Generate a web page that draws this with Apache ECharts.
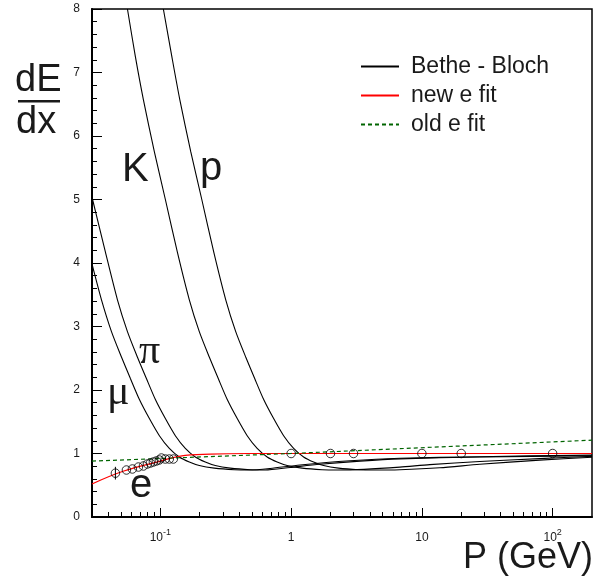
<!DOCTYPE html>
<html>
<head>
<meta charset="utf-8">
<script src="https://cdn.jsdelivr.net/npm/echarts@6/dist/echarts.min.js"></script>
<style>
  html, body { margin: 0; padding: 0; background: #fff; }
  #chart { width: 600px; height: 586px; }
</style>
</head>
<body>
<div id="chart"></div>
<script>
// Bethe-Bloch energy loss curves (momentum in GeV, dE/dx in relative units)
const muP = [0.0303, 0.03545, 0.04227, 0.05039, 0.0590, 0.06915, 0.0824, 0.0983, 0.1171, 0.1396, 0.1665, 0.1985, 0.2584, 0.3671, 0.4779, 0.692, 1.17, 2.82, 6.79, 27.7, 200];
const muV = [3.95, 3.42, 2.92, 2.52, 2.18, 1.85, 1.55, 1.28, 1.08, 0.945, 0.865, 0.81, 0.77, 0.745, 0.74, 0.765, 0.82, 0.885, 0.925, 0.95, 0.975];

const piP = [0.0303, 0.0380, 0.04696, 0.0560, 0.0667, 0.0782, 0.0916, 0.1092, 0.1302, 0.1552, 0.1849, 0.2206, 0.263, 0.3422, 0.4864, 0.6331, 0.982, 1.66, 3.37, 6.79, 27.7, 200];
const piV = [5.0, 4.17, 3.42, 2.92, 2.52, 2.18, 1.85, 1.55, 1.28, 1.08, 0.945, 0.865, 0.81, 0.77, 0.745, 0.74, 0.78, 0.83, 0.88, 0.915, 0.945, 0.965];

const kaonP = [0.0560, 0.0644, 0.0742, 0.0900, 0.1092, 0.1349, 0.1665, 0.1985, 0.2366, 0.2772, 0.3247, 0.3871, 0.4613, 0.5500, 0.6557, 0.7818, 0.9322, 1.213, 1.724, 2.244, 3.61, 6.79, 11.5, 27.7, 79.6, 200];
const kaonV = [8.0, 7.25, 6.57, 5.75, 5.0, 4.17, 3.42, 2.92, 2.52, 2.18, 1.85, 1.55, 1.28, 1.08, 0.945, 0.865, 0.81, 0.77, 0.745, 0.74, 0.75, 0.785, 0.825, 0.875, 0.92, 0.955];

const protonP = [0.1054, 0.1224, 0.1409, 0.1709, 0.2074, 0.2561, 0.3162, 0.3770, 0.4494, 0.5265, 0.6167, 0.7350, 0.8764, 1.045, 1.246, 1.485, 1.771, 2.305, 3.276, 4.265, 6.79, 13.7, 27.7, 79.6, 200];
const protonV = [8.0, 7.25, 6.57, 5.75, 5.0, 4.17, 3.42, 2.92, 2.52, 2.18, 1.85, 1.55, 1.28, 1.08, 0.945, 0.865, 0.81, 0.77, 0.745, 0.74, 0.745, 0.775, 0.83, 0.895, 0.94];

// Electron parametrisations
const newFitP = [0.03, 0.0519, 0.1, 0.142, 0.241, 0.47, 200];
const newFitV = [0.52, 0.72, 0.88, 0.96, 0.99, 1.0, 1.0];

const oldFitP = [0.03, 1, 200];
const oldFitV = [0.88, 1.0, 1.21];

// Measured electron points
const dataP = [0.0453, 0.055, 0.0611, 0.0679, 0.0742, 0.0796, 0.0839, 0.0884, 0.0932, 0.0982, 0.1018, 0.109, 0.117, 0.1256, 1, 2, 3, 10, 20, 100];
const dataV = [0.69, 0.74, 0.756, 0.787, 0.803, 0.835, 0.85, 0.866, 0.882, 0.898, 0.929, 0.913, 0.913, 0.913, 1.0, 1.0, 1.0, 1.0, 1.0, 1.0];
const errP = [0.0453];
const errLo = [0.59];
const errHi = [0.79];

// Axis ticks
const xMajorTicks = [0.1, 1, 10, 100];
const xTickLabels = ['10^-1', '1', '10', '10^2'];
const xMinorTicks = [0.04, 0.05, 0.06, 0.07, 0.08, 0.09,
  0.2, 0.3, 0.4, 0.5, 0.6, 0.7, 0.8, 0.9,
  2, 3, 4, 5, 6, 7, 8, 9,
  20, 30, 40, 50, 60, 70, 80, 90];

const FONT = '"Liberation Sans", Arial, sans-serif';
const SERIF = '"Liberation Serif", "DejaVu Serif", serif';

function pairs(xs, ys) { return xs.map((x, i) => [x, ys[i]]); }

function tickLabel(v) {
  const i = xMajorTicks.findIndex(t => Math.abs(t - v) / t < 1e-6);
  if (i < 0) return '';
  const parts = xTickLabels[i].split('^');
  return parts.length > 1 ? '{b|' + parts[0] + '}{s|' + parts[1] + '}' : '{b|' + parts[0] + '}';
}

const bb = (id, p, v) => ({
  type: 'line', id: id, name: 'Bethe - Bloch', data: pairs(p, v), symbol: 'none',
  smooth: 0.25,
  lineStyle: { color: '#000', width: 1.1 }, itemStyle: { color: '#000' },
  clip: true, z: 2, silent: true
});

const chart = echarts.init(document.getElementById('chart'));
chart.setOption({
  animation: false,
  backgroundColor: '#fff',
  textStyle: { fontFamily: FONT },
  grid: { left: 92, right: 8, top: 9, bottom: 69, show: true, borderColor: '#000', borderWidth: 1.5, backgroundColor: 'transparent' },
  legend: {
    orient: 'vertical', left: 355, top: 50, itemWidth: 38, itemHeight: 14, itemGap: 6,
    textStyle: { fontSize: 23, color: '#1a1a1a', fontFamily: FONT, padding: [0, 0, 0, 7] },
    itemStyle: { opacity: 0 },
    data: ['Bethe - Bloch', 'new e fit', 'old e fit']
  },
  xAxis: [{
    type: 'log', logBase: 10, min: 0.03, max: 200, position: 'bottom',
    axisLine: { show: true, onZero: false, lineStyle: { color: '#000', width: 2 } },
    axisTick: { show: true, inside: true, length: 9, customValues: xMajorTicks, lineStyle: { color: '#000', width: 1 } },
    axisLabel: {
      customValues: xMajorTicks, margin: 11, formatter: tickLabel,
      rich: {
        b: { fontSize: 12, color: '#1a1a1a', fontFamily: FONT, verticalAlign: 'bottom', lineHeight: 16 },
        s: { fontSize: 9, color: '#1a1a1a', fontFamily: FONT, verticalAlign: 'top', lineHeight: 16 }
      }
    },
    splitLine: { show: false }, minorTick: { show: false }
  }, {
    type: 'log', logBase: 10, min: 0.03, max: 200, position: 'bottom', gridIndex: 0,
    axisLine: { show: false },
    axisTick: { show: true, inside: true, length: 5, customValues: xMinorTicks, lineStyle: { color: '#000', width: 1 } },
    axisLabel: { show: false },
    splitLine: { show: false }
  }],
  yAxis: {
    type: 'value', min: 0, max: 8, interval: 1,
    axisLine: { show: true, lineStyle: { color: '#000', width: 2 } },
    axisTick: { show: true, inside: true, length: 10, lineStyle: { color: '#000', width: 1 } },
    minorTick: { show: true, splitNumber: 5, length: 5, lineStyle: { color: '#000', width: 1 } },
    axisLabel: { fontSize: 12, color: '#1a1a1a', margin: 12, fontFamily: FONT },
    splitLine: { show: false }
  },
  series: [
    bb('mu', muP, muV),
    bb('pi', piP, piV),
    bb('kaon', kaonP, kaonV),
    bb('proton', protonP, protonV),
    {
      type: 'line', name: 'new e fit', data: pairs(newFitP, newFitV), symbol: 'none', smooth: 0.4,
      lineStyle: { color: '#ff0000', width: 1.2 }, itemStyle: { color: '#ff0000' }, z: 3, clip: true
    },
    {
      type: 'line', name: 'old e fit', data: pairs(oldFitP, oldFitV), symbol: 'none',
      lineStyle: { color: '#006400', width: 1.2, type: [4, 3] }, itemStyle: { color: '#006400' }, z: 3, clip: true
    },
    {
      type: 'custom', name: 'errors', data: errP.map((p, i) => [p, errLo[i], errHi[i]]),
      encode: { x: 0, y: [1, 2] }, z: 4,
      renderItem(params, api) {
        const a = api.coord([api.value(0), api.value(1)]);
        const b = api.coord([api.value(0), api.value(2)]);
        return { type: 'line', shape: { x1: a[0], y1: a[1], x2: b[0], y2: b[1] }, style: { stroke: '#000', lineWidth: 1 } };
      }
    },
    {
      type: 'scatter', name: 'data', data: pairs(dataP, dataV), symbol: 'circle', symbolSize: 8.5,
      itemStyle: { color: 'rgba(255,255,255,0)', borderColor: '#000', borderWidth: 1 }, z: 5
    }
  ],
  graphic: [
    { type: 'text', left: 15, top: 62, style: { text: 'dE', font: '38px ' + FONT, fill: '#1a1a1a' } },
    { type: 'rect', shape: { x: 18, y: 100, width: 42, height: 2.5 }, style: { fill: '#1a1a1a' } },
    { type: 'text', left: 16, top: 104, style: { text: 'dx', font: '38px ' + FONT, fill: '#1a1a1a' } },
    { type: 'text', right: 7, top: 540, style: { text: 'P (GeV)', font: '36px ' + FONT, fill: '#1a1a1a' } },
    { type: 'text', left: 122, top: 150, style: { text: 'K', font: '40px ' + FONT, fill: '#1a1a1a' } },
    { type: 'text', left: 200, top: 149, style: { text: 'p', font: '40px ' + FONT, fill: '#1a1a1a' } },
    { type: 'text', left: 139, top: 331, style: { text: 'π', font: '42px ' + SERIF, fill: '#1a1a1a' } },
    { type: 'text', left: 107, top: 372, style: { text: 'μ', font: '42px ' + SERIF, fill: '#1a1a1a' } },
    { type: 'text', left: 130, top: 466, style: { text: 'e', font: '40px ' + FONT, fill: '#1a1a1a' } }
  ]
});
</script>
</body>
</html>
